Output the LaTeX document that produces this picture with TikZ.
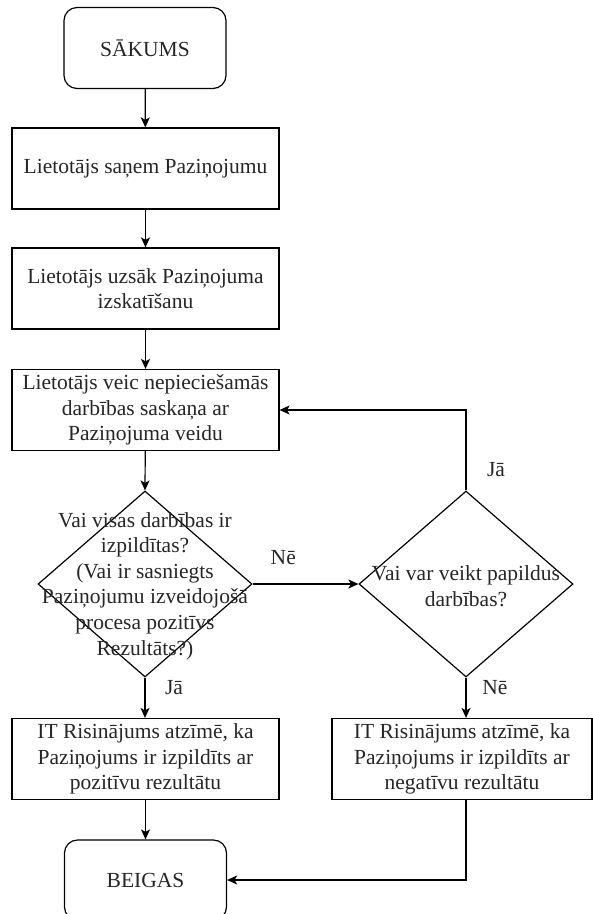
\documentclass[tikz,border=0pt]{standalone}
\usepackage{fontspec}
\setmainfont{Liberation Serif}
\usetikzlibrary{shapes.geometric,arrows.meta}
\begin{document}
\begin{tikzpicture}[x=1pt,y=-1pt,
  txt/.style={font=\fontsize{21.5}{25.6}\selectfont, text=black!85},
  box/.style={txt, draw, line width=1.2pt, rectangle, align=center, inner sep=0pt, minimum width=267pt, minimum height=81pt},
  term/.style={box, rounded corners=13pt, minimum width=162pt},
  dia/.style={draw, line width=1.2pt, diamond, inner sep=0pt, minimum width=214pt, minimum height=186pt},
  arr/.style={line width=1.2pt, -{Stealth[length=10pt,width=9pt,inset=2.5pt]}},
  lbl/.style={txt}
]
\clip (0,0) rectangle (593,914);
\useasboundingbox (0,0) rectangle (593,914);
\node[term] (start) at (145,48) {SĀKUMS};
\node[box] (b2) at (145.5,168.5) {Lietotājs saņem Paziņojumu};
\node[box] (b3) at (145.5,288.5) {Lietotājs uzsāk Paziņojuma\\izskatīšanu};
\node[box] (b4) at (145.5,410) {Lietotājs veic nepieciešamās\\darbības saskaņa ar\\Paziņojuma veidu};
\node[dia] (d1) at (145,584) {};
\node[txt, align=center] (t1) at (145,586) {Vai visas darbības ir\\izpildītas?\\(Vai ir sasniegts\\Paziņojumu izveidojošā\\procesa pozitīvs\\Rezultāts?)};
\node[dia] (d2) at (466,584) {};
\node[txt, align=center] (t2) at (466,586) {Vai var veikt papildus\\darbības?};
\node[box] (b5) at (145.5,759) {IT Risinājums atzīmē, ka\\Paziņojums ir izpildīts ar\\pozitīvu rezultātu};
\node[box, minimum width=260pt] (b6) at (462,759) {IT Risinājums atzīmē, ka\\Paziņojums ir izpildīts ar\\negatīvu rezultātu};
\node[term, minimum height=80pt] (end) at (145.5,880) {BEIGAS};

\draw[arr] (start) -- (b2);
\draw[arr] (b2) -- (b3);
\draw[arr] (b3) -- (b4);
\draw[arr] (b4) -- (d1.north);
\draw[arr] (d1.east) -- node[lbl, pos=0.29, yshift=26pt] {Nē} (d2.west);
\draw[arr] (d2.north) |- node[lbl, pos=0.13, xshift=30pt] {Jā} (b4.east);
\draw[arr] (d1.south) -- node[lbl, pos=0.24, xshift=29pt] {Jā} (d1.south |- b5.north);
\draw[arr] (d2.south) -- node[lbl, pos=0.24, xshift=29pt] {Nē} (d2.south |- b6.north);
\draw[arr] (b5) -- (end);
\draw[arr] (b6.south -| d2.south) |- (end.east);
\end{tikzpicture}
\end{document}
